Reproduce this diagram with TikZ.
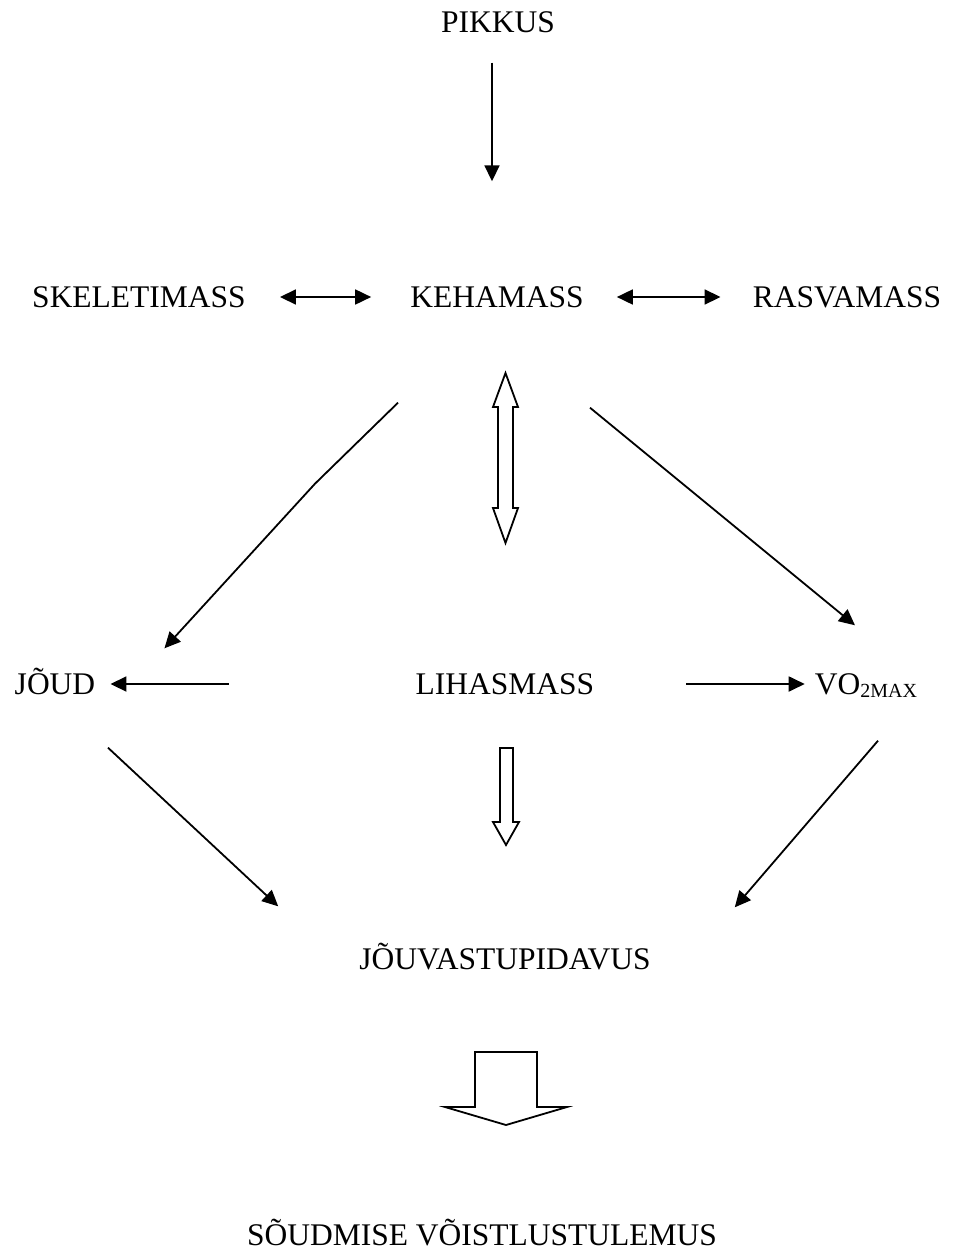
\documentclass[tikz,border=0pt]{standalone}
\usepackage{fontspec}
\setmainfont{Liberation Serif}
\usetikzlibrary{arrows.meta,positioning}

\begin{document}
\begin{tikzpicture}[
  x=1pt,y=-1pt,
  lbl/.style={font=\fontsize{31.5}{36}\selectfont,inner sep=0pt,text height=21pt,text depth=0pt},
  arrow/.style={-{Triangle[length=16pt,width=15pt]},line width=1.8pt},
  twoway/.style={{Triangle[length=16pt,width=15pt]}-{Triangle[length=16pt,width=15pt]},line width=1.8pt},
  hollow/.style={draw,fill=white,line width=1.8pt,line join=miter}
]
\useasboundingbox (0,0) rectangle (954,1253);
\node[lbl] (pikkus) at (498,22) {PIKKUS};
\node[lbl] (keha) at (497,297) {KEHAMASS};
\node[lbl] (skelet) at (139,297) {SKELETIMASS};
\node[lbl] (rasva) at (847,297) {RASVAMASS};
\node[lbl] (joud) at (55,684) {JÕUD};
\node[lbl] (lihas) at (505,684) {LIHASMASS};
\node[lbl] (vo2) at (866,684) {VO\raisebox{-3pt}{\fontsize{20}{20}\selectfont 2MAX}};
\node[lbl] (jouv) at (505,959) {JÕUVASTUPIDAVUS};
\node[lbl] (tulemus) at (482,1235) {SÕUDMISE VÕISTLUSTULEMUS};
\draw[arrow,shorten <=30pt,shorten >=105pt] ([xshift=-6pt]pikkus.south) -- ([xshift=-5pt]keha.north);
\draw[twoway,shorten <=34pt,shorten >=39pt] (skelet.east) -- (keha.west);
\draw[twoway,shorten <=33pt,shorten >=32pt] (keha.east) -- (rasva.west);
\draw[arrow] ([shift={(-99,95)}]keha.south) -- ++(-83,81) -- ([shift={(69,-25)}]joud.north east);
\draw[arrow] ([shift={(93,100)}]keha.south) -- ([shift={(-11,-48)}]vo2.north);
\draw[arrow,shorten <=187pt,shorten >=15pt] (lihas.west) -- (joud.east);
\draw[arrow,shorten <=92pt,shorten >=10pt] (lihas.east) -- (vo2.west);
\draw[arrow] ([shift={(53,53)}]joud.south) -- ([shift={(-81,-42)}]jouv.north west);
\draw[arrow] ([shift={(12,46)}]vo2.south) -- ([shift={(84,-41)}]jouv.north east);
% hollow arrows
\draw[hollow] (505.5,373) -- (518,407) -- (513,407) -- (513,508) -- (518,508) -- (505.5,543)
  -- (493,508) -- (498,508) -- (498,407) -- (493,407) -- cycle;
\draw[hollow] (500,748) -- (513,748) -- (513,822) -- (519,822) -- (506,845) -- (493,822)
  -- (500,822) -- cycle;
\draw[hollow] (475,1052) -- (537,1052) -- (537,1107) -- (567,1107) -- (506,1125) -- (445,1107)
  -- (475,1107) -- cycle;
\end{tikzpicture}
\end{document}
